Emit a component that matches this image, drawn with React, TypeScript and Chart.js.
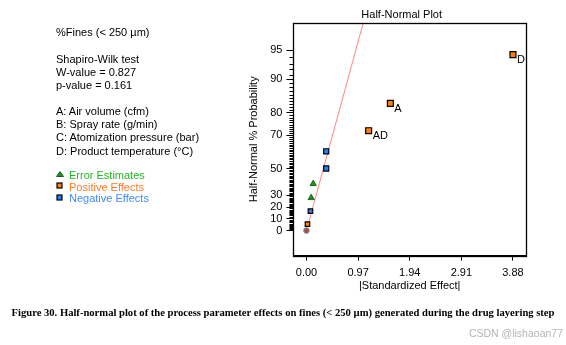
import React, { useEffect, useRef } from 'react';
import { Chart, registerables } from 'chart.js';

Chart.register(...registerables);

// ---- data ----
const effectLabels = ['', '', '', '', '', '', 'AD', 'A', 'D'];
const effectSizes = [0.019, 0.075, 0.089, 0.126, 0.371, 0.371, 1.168, 1.576, 3.88];
const effectPcts = [5.6, 16.7, 27.8, 38.9, 50.0, 61.1, 72.2, 83.3, 94.4];
const effectKinds = ['positive', 'negative', 'error', 'error', 'negative', 'negative', 'positive', 'positive', 'positive'];
const zeroEffect = [0];
const zeroPct = [0];
const fitLineX = [0.036, 1.15];
const fitLinePct = [6, 98.5];
const yMajorPcts = [0, 10, 20, 30, 50, 70, 80, 90, 95];
const yMinorMaxPct = 94;
const xTickValues = [0, 0.97, 1.94, 2.91, 3.88];
const xRange = [-0.245, 4.125];
const yRangeZ = [-0.272, 2.255];

const infoLines = [
  { text: '%Fines (< 250 µm)', y: 32 },
  { text: 'Shapiro-Wilk test', y: 59 },
  { text: 'W-value = 0.827', y: 72 },
  { text: 'p-value = 0.161', y: 85 },
  { text: 'A: Air volume (cfm)', y: 111 },
  { text: 'B: Spray rate (g/min)', y: 124 },
  { text: 'C: Atomization pressure (bar)', y: 137.5 },
  { text: 'D: Product temperature (°C)', y: 151 },
];
const legendItems = [
  { text: 'Error Estimates', kind: 'error', y: 175 },
  { text: 'Positive Effects', kind: 'positive', y: 187 },
  { text: 'Negative Effects', kind: 'negative', y: 198.5 },
];

const FONT = '"Liberation Sans", Arial, sans-serif';
const kindFill: Record<string, string> = { positive: '#ff8000', negative: '#1e82ff', error: '#159a15' };
const kindText: Record<string, string> = { positive: '#ff7a26', negative: '#3d8cff', error: '#22b822' };

function invNorm(p: number): number {
  const a = [-3.969683028665376e1, 2.209460984245205e2, -2.759285104469687e2, 1.38357751867269e2, -3.066479806614716e1, 2.506628277459239];
  const b = [-5.447609879822406e1, 1.615858368580409e2, -1.556989798598866e2, 6.680131188771972e1, -1.328068155288572e1];
  const c = [-7.784894002430293e-3, -3.223964580411365e-1, -2.400758277161838, -2.549732539343734, 4.374664141464968, 2.938163982698783];
  const d = [7.784695709041462e-3, 3.224671290700398e-1, 2.445134137142996, 3.754408661907416];
  const pl = 0.02425;
  if (p < pl) {
    const q = Math.sqrt(-2 * Math.log(p));
    return (((((c[0] * q + c[1]) * q + c[2]) * q + c[3]) * q + c[4]) * q + c[5]) / ((((d[0] * q + d[1]) * q + d[2]) * q + d[3]) * q + 1);
  }
  if (p <= 1 - pl) {
    const q = p - 0.5;
    const r = q * q;
    return ((((((a[0] * r + a[1]) * r + a[2]) * r + a[3]) * r + a[4]) * r + a[5]) * q) / (((((b[0] * r + b[1]) * r + b[2]) * r + b[3]) * r + b[4]) * r + 1);
  }
  const q = Math.sqrt(-2 * Math.log(1 - p));
  return -(((((c[0] * q + c[1]) * q + c[2]) * q + c[3]) * q + c[4]) * q + c[5]) / ((((d[0] * q + d[1]) * q + d[2]) * q + d[3]) * q + 1);
}
const halfNormalZ = (pct: number) => invNorm(0.5 + pct / 200);

function pointsOf(kind: string) {
  return effectSizes
    .map((x, i) => ({ x, y: halfNormalZ(effectPcts[i]), label: effectLabels[i], kind: effectKinds[i] }))
    .filter((p) => p.kind === kind);
}

const extrasPlugin = {
  id: 'extras',
  afterDatasetsDraw(chart: any) {
    const { ctx, chartArea } = chart;
    const ys = chart.scales.y;
    ctx.save();
    // minor ticks
    ctx.strokeStyle = '#000';
    ctx.lineWidth = 1;
    ctx.beginPath();
    for (let p = 1; p <= yMinorMaxPct; p++) {
      if (yMajorPcts.includes(p)) continue;
      const py = Math.round(ys.getPixelForValue(halfNormalZ(p))) + 0.5;
      ctx.moveTo(chartArea.left - 4, py);
      ctx.lineTo(chartArea.left, py);
    }
    ctx.stroke();
    // frame
    ctx.lineWidth = 1.3;
    ctx.strokeRect(Math.round(chartArea.left) + 0.5, Math.round(chartArea.top) + 0.5, Math.round(chartArea.right - chartArea.left), Math.round(chartArea.bottom - chartArea.top));
    // point labels
    ctx.fillStyle = '#000';
    ctx.font = `11px ${FONT}`;
    ctx.textAlign = 'left';
    ctx.textBaseline = 'middle';
    chart.data.datasets.forEach((ds: any, di: number) => {
      const meta = chart.getDatasetMeta(di);
      ds.data.forEach((pt: any, j: number) => {
        if (pt && pt.label) {
          const el = meta.data[j];
          ctx.fillText(pt.label, el.x + 4, el.y + 5.5);
        }
      });
    });
    ctx.restore();
  },
};

export default function App() {
  const canvasRef = useRef<HTMLCanvasElement>(null);

  useEffect(() => {
    document.body.style.margin = '0';
    const canvas = canvasRef.current;
    if (!canvas) return;
    const tickFont = { family: FONT, size: 11 };
    const chart = new Chart(canvas, {
      type: 'scatter',
      data: {
        datasets: [
          {
            label: 'Positive Effects',
            data: pointsOf('positive'),
            pointStyle: 'rect',
            pointRadius: (c: any) => (c.raw && c.raw.label ? 4.2 : 3.2),
            backgroundColor: kindFill.positive,
            borderColor: '#000',
            borderWidth: 1.2,
          },
          {
            label: 'Negative Effects',
            data: pointsOf('negative'),
            pointStyle: 'rect',
            pointRadius: (c: any) => (c.raw && c.raw.y > 0.5 ? 3.6 : 3.2),
            backgroundColor: kindFill.negative,
            borderColor: '#000',
            borderWidth: 1.2,
          },
          {
            label: 'Error Estimates',
            data: pointsOf('error'),
            pointStyle: 'triangle',
            pointRadius: 3.6,
            backgroundColor: kindFill.error,
            borderColor: '#0a4a0a',
            borderWidth: 0.8,
          },
          {
            label: 'Zero',
            data: zeroEffect.map((x, i) => ({ x, y: halfNormalZ(zeroPct[i]) })),
            pointStyle: 'circle',
            pointRadius: 2.8,
            backgroundColor: '#a0524d',
            borderColor: '#8a8a8a',
            borderWidth: 1,
          },
          {
            type: 'line',
            label: 'Fit',
            data: fitLineX.map((x, i) => ({ x, y: halfNormalZ(fitLinePct[i]) })),
            borderColor: '#ff8585',
            borderWidth: 1,
            pointRadius: 0,
            fill: false,
            showLine: true,
          } as any,
        ],
      },
      options: {
        responsive: false,
        animation: false,
        events: [],
        layout: { padding: { left: 244, right: 40, top: 23, bottom: 52 } },
        plugins: {
          legend: { display: false },
          tooltip: { enabled: false },
          title: { display: false },
        },
        scales: {
          x: {
            type: 'linear',
            min: xRange[0],
            max: xRange[1],
            afterBuildTicks: (s: any) => {
              s.ticks = xTickValues.map((v) => ({ value: v }));
            },
            ticks: {
              autoSkip: false,
              maxRotation: 0,
              color: '#000',
              font: tickFont,
              padding: 6,
              callback: (v: any) => Number(v).toFixed(2),
            },
            grid: { drawOnChartArea: false, drawTicks: true, tickLength: 5, tickColor: '#000', tickWidth: 1 },
            border: { display: true, color: '#000', width: 1 },
            title: { display: true, text: '|Standardized Effect|', color: '#000', font: tickFont, padding: { top: -6, bottom: 0 } },
          },
          y: {
            type: 'linear',
            min: yRangeZ[0],
            max: yRangeZ[1],
            afterBuildTicks: (s: any) => {
              s.ticks = yMajorPcts.map((p) => ({ value: halfNormalZ(p) }));
            },
            ticks: {
              autoSkip: false,
              color: '#000',
              font: tickFont,
              padding: 4,
              callback: (_v: any, i: number) => String(yMajorPcts[i]),
            },
            grid: { drawOnChartArea: false, drawTicks: true, tickLength: 7, tickColor: '#000', tickWidth: 1 },
            border: { display: true, color: '#000', width: 1 },
            title: { display: true, text: 'Half-Normal % Probability', color: '#000', font: tickFont, padding: { top: 3, bottom: 6 } },
          },
        },
      },
      plugins: [extrasPlugin],
    } as any);
    return () => chart.destroy();
  }, []);

  const lineStyle = (y: number): React.CSSProperties => ({
    position: 'absolute',
    left: 56,
    top: y - 6.5,
    font: `11px ${FONT}`,
    lineHeight: '13px',
    whiteSpace: 'nowrap',
    color: '#000',
  });

  return (
    <div style={{ position: 'relative', width: 566, height: 345, background: '#fff', overflow: 'hidden' }}>
      <canvas ref={canvasRef} width={566} height={345} style={{ position: 'absolute', left: 0, top: 0 }} />
      <div
        style={{
          position: 'absolute',
          left: 401.7,
          top: 14 - 6.5,
          transform: 'translateX(-50%)',
          font: `11px ${FONT}`,
          lineHeight: '13px',
          whiteSpace: 'nowrap',
          color: '#000',
        }}
      >
        Half-Normal Plot
      </div>
      {infoLines.map((l) => (
        <div key={l.text} style={lineStyle(l.y)}>
          {l.text}
        </div>
      ))}
      {legendItems.map((l) => (
        <div key={l.text}>
          <svg width={8} height={8} style={{ position: 'absolute', left: 56, top: l.y - 5 }}>
            {l.kind === 'error' ? (
              <polygon points="4,1.5 7.5,6.5 0.5,6.5" fill={kindFill.error} stroke="#0a3a0a" strokeWidth={0.8} />
            ) : (
              <rect x={1} y={1} width={5} height={5} fill={kindFill[l.kind]} stroke="#000" strokeWidth={1.2} />
            )}
          </svg>
          <div style={{ ...lineStyle(l.y), left: 69, color: kindText[l.kind] }}>{l.text}</div>
        </div>
      ))}
      <div
        style={{
          position: 'absolute',
          left: 0,
          width: 566,
          top: 313 - 7,
          textAlign: 'center',
          font: `bold 10.6px "Liberation Serif", "Times New Roman", serif`,
          lineHeight: '14px',
          whiteSpace: 'nowrap',
          color: '#000',
        }}
      >
        Figure 30. Half-normal plot of the process parameter effects on fines (&lt; 250 µm) generated during the drug layering step
      </div>
      <div
        style={{
          position: 'absolute',
          right: 3,
          top: 333 - 7,
          font: `10.5px ${FONT}`,
          lineHeight: '14px',
          whiteSpace: 'nowrap',
          color: '#b4b4b4',
        }}
      >
        CSDN @lishaoan77
      </div>
    </div>
  );
}
